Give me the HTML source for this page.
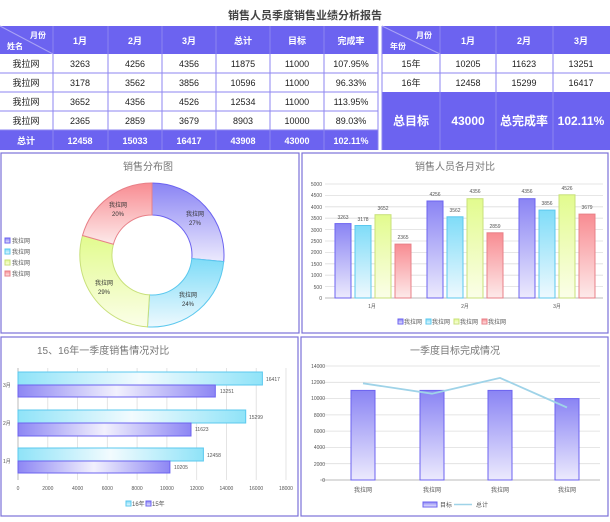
<!DOCTYPE html>
<html><head><meta charset="utf-8"><style>
body{margin:0;width:610px;height:517px;background:#fff;font-family:"Liberation Sans","Noto Sans CJK SC",sans-serif;overflow:hidden}
</style></head><body>
<svg width="610" height="517" viewBox="0 0 610 517" xmlns="http://www.w3.org/2000/svg" font-family="Liberation Sans, Noto Sans CJK SC, sans-serif">
<defs>
<linearGradient id="gB" x1="0" y1="0" x2="0" y2="1"><stop offset="0" stop-color="#8a84f4"/><stop offset="1" stop-color="#eceafd"/></linearGradient>
<linearGradient id="gC" x1="0" y1="0" x2="0" y2="1"><stop offset="0" stop-color="#7fdcf8"/><stop offset="1" stop-color="#eef9fe"/></linearGradient>
<linearGradient id="gY" x1="0" y1="0" x2="0" y2="1"><stop offset="0" stop-color="#e2fb8e"/><stop offset="1" stop-color="#fbfee8"/></linearGradient>
<linearGradient id="gR" x1="0" y1="0" x2="0" y2="1"><stop offset="0" stop-color="#f88c92"/><stop offset="1" stop-color="#fdeaea"/></linearGradient>
<linearGradient id="hC" x1="0" y1="0" x2="1" y2="0"><stop offset="0" stop-color="#8fe3f8"/><stop offset=".5" stop-color="#f2fbfe"/><stop offset="1" stop-color="#8fe3f8"/></linearGradient>
<linearGradient id="hB" x1="0" y1="0" x2="1" y2="0"><stop offset="0" stop-color="#8d86f4"/><stop offset=".5" stop-color="#f2f1fd"/><stop offset="1" stop-color="#8d86f4"/></linearGradient>
</defs>
<!-- title -->
<text x="305" y="19" text-anchor="middle" font-size="11" font-weight="bold" fill="#444">销售人员季度销售业绩分析报告</text>
<!-- left table -->
<g font-size="9" text-anchor="middle">
<rect x="0" y="26" width="378" height="28" fill="#6c63f0"/>
<rect x="0" y="130" width="378" height="20" fill="#6c63f0"/>
<g stroke="#8d86f0" stroke-width="1">
<line x1="0" y1="73" x2="378" y2="73"/><line x1="0" y1="92" x2="378" y2="92"/><line x1="0" y1="111" x2="378" y2="111"/><line x1="0" y1="130" x2="378" y2="130"/>
<line x1="53" y1="26" x2="53" y2="150"/><line x1="108" y1="26" x2="108" y2="150"/><line x1="162" y1="26" x2="162" y2="150"/><line x1="216" y1="26" x2="216" y2="150"/><line x1="270" y1="26" x2="270" y2="150"/><line x1="324" y1="26" x2="324" y2="150"/><line x1="378" y1="26" x2="378" y2="150"/>
<line x1="0" y1="26" x2="53" y2="54" stroke="#a9a3f5"/>
</g>
<g fill="#fff" font-weight="bold">
<text x="38" y="38" font-size="8">月份</text><text x="15" y="49" font-size="8">姓名</text>
<text x="80" y="44">1月</text><text x="135" y="44">2月</text><text x="189" y="44">3月</text><text x="243" y="44">总计</text><text x="297" y="44">目标</text><text x="351" y="44">完成率</text>
<text x="26" y="144">总计</text><text x="80" y="144">12458</text><text x="135" y="144">15033</text><text x="189" y="144">16417</text><text x="243" y="144">43908</text><text x="297" y="144">43000</text><text x="351" y="144">102.11%</text>
</g>
<g fill="#222">
<text x="26" y="67">我拉网</text><text x="80" y="67">3263</text><text x="135" y="67">4256</text><text x="189" y="67">4356</text><text x="243" y="67">11875</text><text x="297" y="67">11000</text><text x="351" y="67">107.95%</text>
<text x="26" y="86">我拉网</text><text x="80" y="86">3178</text><text x="135" y="86">3562</text><text x="189" y="86">3856</text><text x="243" y="86">10596</text><text x="297" y="86">11000</text><text x="351" y="86">96.33%</text>
<text x="26" y="105">我拉网</text><text x="80" y="105">3652</text><text x="135" y="105">4356</text><text x="189" y="105">4526</text><text x="243" y="105">12534</text><text x="297" y="105">11000</text><text x="351" y="105">113.95%</text>
<text x="26" y="124">我拉网</text><text x="80" y="124">2365</text><text x="135" y="124">2859</text><text x="189" y="124">3679</text><text x="243" y="124">8903</text><text x="297" y="124">10000</text><text x="351" y="124">89.03%</text>
</g>
</g>
<!-- right table -->
<g font-size="9" text-anchor="middle">
<rect x="382" y="26" width="228" height="28" fill="#6c63f0"/>
<rect x="382" y="92" width="228" height="58" fill="#6c63f0"/>
<g stroke="#8d86f0"><line x1="382" y1="73" x2="610" y2="73"/><line x1="440" y1="26" x2="440" y2="150"/><line x1="496" y1="26" x2="496" y2="150"/><line x1="553" y1="26" x2="553" y2="150"/><line x1="382" y1="26" x2="382" y2="150"/><line x1="382" y1="26" x2="440" y2="54" stroke="#a9a3f5"/></g>
<g fill="#fff" font-weight="bold">
<text x="424" y="38" font-size="8">月份</text><text x="398" y="49" font-size="8">年份</text>
<text x="468" y="44">1月</text><text x="524" y="44">2月</text><text x="581" y="44">3月</text>
<text x="411" y="125" font-size="12">总目标</text><text x="468" y="125" font-size="12">43000</text><text x="524" y="125" font-size="12">总完成率</text><text x="581" y="125" font-size="12">102.11%</text>
</g>
<g fill="#222"><text x="411" y="67">15年</text><text x="468" y="67">10205</text><text x="524" y="67">11623</text><text x="581" y="67">13251</text>
<text x="411" y="86">16年</text><text x="468" y="86">12458</text><text x="524" y="86">15299</text><text x="581" y="86">16417</text></g>
</g>
<!-- panels -->
<g fill="none" stroke="#7b72d8" stroke-width="1.2">
<rect x="1" y="153" width="298" height="180"/><rect x="302" y="153" width="306" height="180"/>
<rect x="1" y="337" width="297" height="179"/><rect x="301" y="337" width="307" height="179"/>
</g>
<!-- pie -->
<text x="148" y="170" text-anchor="middle" font-size="10" fill="#777">销售分布图</text>
<g stroke-width="1">
<path d="M152,183 A72,72 0 0 1 223.7,261.6 L191.8,258.6 A40,40 0 0 0 152,215 Z" fill="url(#gB)" stroke="#6c63f0"/>
<path d="M223.7,261.6 A72,72 0 0 1 147.5,326.9 L149.5,294.9 A40,40 0 0 0 191.8,258.6 Z" fill="url(#gC)" stroke="#5bc8ee"/>
<path d="M147.5,326.9 A72,72 0 0 1 82.5,235.5 L113.4,244.2 A40,40 0 0 0 149.5,294.9 Z" fill="url(#gY)" stroke="#c8e07a"/>
<path d="M82.5,235.5 A72,72 0 0 1 152,183 L152,215 A40,40 0 0 0 113.4,244.2 Z" fill="url(#gR)" stroke="#e88088"/>
</g>
<g font-size="6" fill="#333" text-anchor="middle">
<text x="195" y="216">我拉网</text><text x="195" y="225">27%</text>
<text x="188" y="297">我拉网</text><text x="188" y="306">24%</text>
<text x="104" y="285">我拉网</text><text x="104" y="294">29%</text>
<text x="118" y="207">我拉网</text><text x="118" y="216">20%</text>
</g>
<g font-size="6" fill="#555">
<rect x="5" y="238" width="5" height="5" fill="url(#gB)" stroke="#6c63f0"/><text x="12" y="243">我拉网</text>
<rect x="5" y="249" width="5" height="5" fill="url(#gC)" stroke="#5bc8ee"/><text x="12" y="254">我拉网</text>
<rect x="5" y="260" width="5" height="5" fill="url(#gY)" stroke="#c8e07a"/><text x="12" y="265">我拉网</text>
<rect x="5" y="271" width="5" height="5" fill="url(#gR)" stroke="#e88088"/><text x="12" y="276">我拉网</text>
</g>
<!-- top right bar chart -->
<text x="455" y="170" text-anchor="middle" font-size="10" fill="#777">销售人员各月对比</text>
<g stroke="#ddd" stroke-width="0.8">
<line x1="325" y1="184" x2="603" y2="184"/><line x1="325" y1="195.4" x2="603" y2="195.4"/><line x1="325" y1="206.8" x2="603" y2="206.8"/><line x1="325" y1="218.2" x2="603" y2="218.2"/><line x1="325" y1="229.6" x2="603" y2="229.6"/><line x1="325" y1="241" x2="603" y2="241"/><line x1="325" y1="252.4" x2="603" y2="252.4"/><line x1="325" y1="263.8" x2="603" y2="263.8"/><line x1="325" y1="275.2" x2="603" y2="275.2"/><line x1="325" y1="286.6" x2="603" y2="286.6"/>
</g>
<line x1="325" y1="298" x2="603" y2="298" stroke="#bbb"/>
<g font-size="5" fill="#555" text-anchor="end">
<text x="322" y="186">5000</text><text x="322" y="197">4500</text><text x="322" y="209">4000</text><text x="322" y="220">3500</text><text x="322" y="232">3000</text><text x="322" y="243">2500</text><text x="322" y="254">2000</text><text x="322" y="266">1500</text><text x="322" y="277">1000</text><text x="322" y="289">500</text><text x="322" y="300">0</text>
</g>
<g stroke-width="1">
<rect x="335" y="223.6" width="16" height="74.4" fill="url(#gB)" stroke="#6c63f0"/>
<rect x="355" y="225.5" width="16" height="72.5" fill="url(#gC)" stroke="#5bc8ee"/>
<rect x="375" y="214.7" width="16" height="83.3" fill="url(#gY)" stroke="#c8e07a"/>
<rect x="395" y="244.1" width="16" height="53.9" fill="url(#gR)" stroke="#e88088"/>
<rect x="427" y="201" width="16" height="97" fill="url(#gB)" stroke="#6c63f0"/>
<rect x="447" y="216.8" width="16" height="81.2" fill="url(#gC)" stroke="#5bc8ee"/>
<rect x="467" y="198.7" width="16" height="99.3" fill="url(#gY)" stroke="#c8e07a"/>
<rect x="487" y="232.8" width="16" height="65.2" fill="url(#gR)" stroke="#e88088"/>
<rect x="519" y="198.7" width="16" height="99.3" fill="url(#gB)" stroke="#6c63f0"/>
<rect x="539" y="210.1" width="16" height="87.9" fill="url(#gC)" stroke="#5bc8ee"/>
<rect x="559" y="194.8" width="16" height="103.2" fill="url(#gY)" stroke="#c8e07a"/>
<rect x="579" y="214.1" width="16" height="83.9" fill="url(#gR)" stroke="#e88088"/>
</g>
<g font-size="5" fill="#555" text-anchor="middle">
<text x="343" y="219">3263</text><text x="363" y="221">3178</text><text x="383" y="210">3652</text><text x="403" y="239">2365</text>
<text x="435" y="196">4256</text><text x="455" y="212">3562</text><text x="475" y="193">4356</text><text x="495" y="228">2859</text>
<text x="527" y="193">4356</text><text x="547" y="205">3856</text><text x="567" y="190">4526</text><text x="587" y="209">3679</text>
<text x="372" y="308">1月</text><text x="465" y="308">2月</text><text x="557" y="308">3月</text>
</g>
<g font-size="6" fill="#555">
<rect x="398" y="319" width="5" height="5" fill="url(#gB)" stroke="#6c63f0"/><text x="404" y="324">我拉网</text>
<rect x="426" y="319" width="5" height="5" fill="url(#gC)" stroke="#5bc8ee"/><text x="432" y="324">我拉网</text>
<rect x="454" y="319" width="5" height="5" fill="url(#gY)" stroke="#c8e07a"/><text x="460" y="324">我拉网</text>
<rect x="482" y="319" width="5" height="5" fill="url(#gR)" stroke="#e88088"/><text x="488" y="324">我拉网</text>
</g>
<!-- bottom left -->
<text x="37" y="354" font-size="10" fill="#777">15、16年一季度销售情况对比</text>
<g stroke="#ddd" stroke-width="0.8">
<line x1="47.8" y1="368" x2="47.8" y2="480"/><line x1="77.6" y1="368" x2="77.6" y2="480"/><line x1="107.3" y1="368" x2="107.3" y2="480"/><line x1="137.1" y1="368" x2="137.1" y2="480"/><line x1="166.9" y1="368" x2="166.9" y2="480"/><line x1="196.7" y1="368" x2="196.7" y2="480"/><line x1="226.4" y1="368" x2="226.4" y2="480"/><line x1="256.2" y1="368" x2="256.2" y2="480"/><line x1="286" y1="368" x2="286" y2="480"/>
</g>
<line x1="18" y1="368" x2="18" y2="480" stroke="#bbb"/>
<g stroke-width="1">
<rect x="18" y="372" width="244.4" height="13" fill="url(#hC)" stroke="#5bc8ee"/>
<rect x="18" y="385" width="197.3" height="12" fill="url(#hB)" stroke="#6c63f0"/>
<rect x="18" y="410" width="227.7" height="13" fill="url(#hC)" stroke="#5bc8ee"/>
<rect x="18" y="423" width="173" height="13" fill="url(#hB)" stroke="#6c63f0"/>
<rect x="18" y="448" width="185.4" height="13" fill="url(#hC)" stroke="#5bc8ee"/>
<rect x="18" y="461" width="151.9" height="12" fill="url(#hB)" stroke="#6c63f0"/>
</g>
<g font-size="5" fill="#555">
<text x="266" y="381">16417</text><text x="220" y="393">13251</text>
<text x="249" y="419">15299</text><text x="195" y="431">11623</text>
<text x="207" y="457">12458</text><text x="174" y="469">10205</text>
<text x="3" y="387">3月</text><text x="3" y="425">2月</text><text x="3" y="463">1月</text>
</g>
<g font-size="5" fill="#555" text-anchor="middle">
<text x="18" y="490">0</text><text x="47.8" y="490">2000</text><text x="77.6" y="490">4000</text><text x="107.3" y="490">6000</text><text x="137.1" y="490">8000</text><text x="166.9" y="490">10000</text><text x="196.7" y="490">12000</text><text x="226.4" y="490">14000</text><text x="256.2" y="490">16000</text><text x="286" y="490">18000</text>
</g>
<g font-size="6" fill="#555">
<rect x="126" y="501" width="5" height="5" fill="url(#gC)" stroke="#5bc8ee"/><text x="132" y="506">16年</text>
<rect x="146" y="501" width="5" height="5" fill="url(#gB)" stroke="#6c63f0"/><text x="152" y="506">15年</text>
</g>
<!-- bottom right -->
<text x="455" y="354" text-anchor="middle" font-size="10" fill="#777">一季度目标完成情况</text>
<g stroke="#ddd" stroke-width="0.8">
<line x1="320" y1="366" x2="600" y2="366"/><line x1="320" y1="382.3" x2="600" y2="382.3"/><line x1="320" y1="398.6" x2="600" y2="398.6"/><line x1="320" y1="414.9" x2="600" y2="414.9"/><line x1="320" y1="431.1" x2="600" y2="431.1"/><line x1="320" y1="447.4" x2="600" y2="447.4"/><line x1="320" y1="463.7" x2="600" y2="463.7"/>
</g>
<line x1="320" y1="480" x2="600" y2="480" stroke="#bbb"/>
<g font-size="5" fill="#555" text-anchor="end">
<text x="325" y="368">14000</text><text x="325" y="384">12000</text><text x="325" y="400">10000</text><text x="325" y="417">8000</text><text x="325" y="433">6000</text><text x="325" y="449">4000</text><text x="325" y="466">2000</text><text x="325" y="482">0</text>
</g>
<g stroke="#6c63f0" stroke-width="1" fill="url(#gB)">
<rect x="351" y="390.4" width="24" height="89.6"/><rect x="420" y="390.4" width="24" height="89.6"/><rect x="488" y="390.4" width="24" height="89.6"/><rect x="555" y="398.6" width="24" height="81.4"/>
</g>
<polyline points="363,383.3 432,393.7 500,377.9 567,407.5" fill="none" stroke="#9fd3e8" stroke-width="1.8"/>
<g font-size="6" fill="#555" text-anchor="middle">
<text x="363" y="492">我拉网</text><text x="432" y="492">我拉网</text><text x="500" y="492">我拉网</text><text x="567" y="492">我拉网</text>
</g>
<g font-size="6" fill="#555">
<rect x="423" y="502" width="14" height="5" fill="url(#gB)" stroke="#6c63f0"/><text x="440" y="507">目标</text>
<line x1="454" y1="504.5" x2="472" y2="504.5" stroke="#9fd3e8" stroke-width="1.5"/><text x="476" y="507">总计</text>
</g>
</svg>
</body></html>
